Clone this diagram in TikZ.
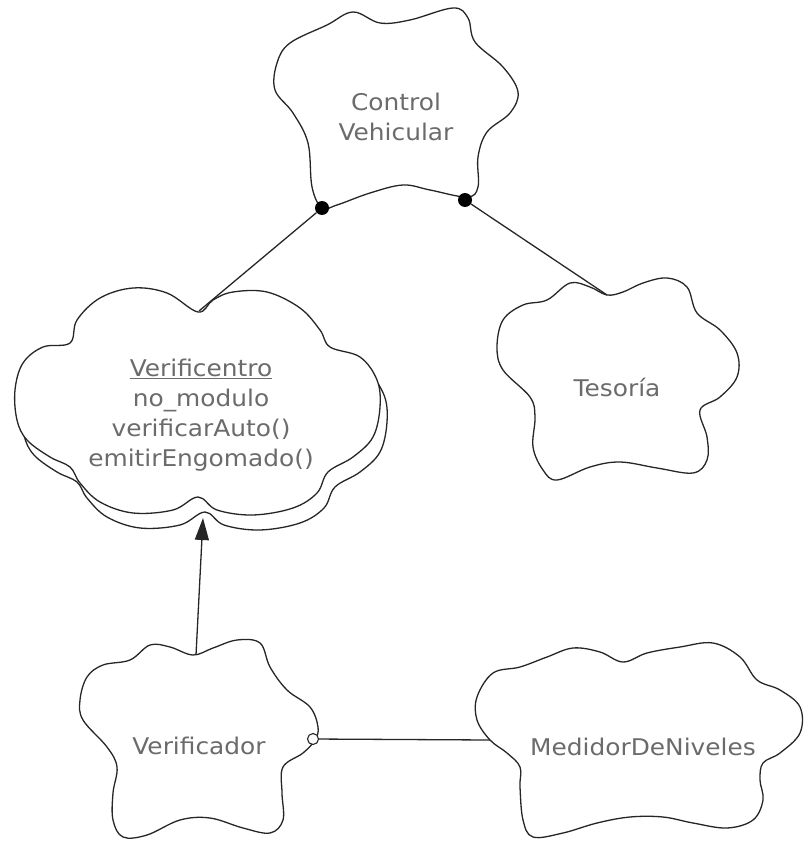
\documentclass[tikz,border=0pt]{standalone}
\usepackage{fontspec}
\setmainfont[FakeStretch=1.08]{DejaVu Sans}
\usetikzlibrary{arrows.meta}
\definecolor{txt}{gray}{0.42}
\begin{document}
\begin{tikzpicture}[x=1pt,y=-1pt,
  cloud/.style={draw=black!85,line width=1.3pt,fill=white},
  lbl/.style={text=txt,font=\fontsize{23}{30}\selectfont,align=center,inner sep=0},
  conn/.style={draw=black!85,line width=1.3pt},
  solid dot/.style={circle,fill=black,minimum size=14pt,inner sep=0},
  open dot/.style={circle,draw=black!85,line width=1.1pt,fill=white,minimum size=11pt,inner sep=0}]
\useasboundingbox (0,0) rectangle (806,842);

% Control Vehicular
\path[cloud] plot[smooth cycle,tension=0.6] coordinates {
  (290,43) (327,25) (353,12) (380,23) (410,20) (453,8) (468,18) (475,42)
  (503,67) (518,92) (510,113) (487,132) (478,157) (478,187) (467,197)
  (430,190) (403,185) (370,193) (337,205) (322,208) (312,187) (308,143)
  (293,113) (275,90) (277,63)};
\node[lbl] (cv) at (396,117) {Control\\Vehicular};

% Tesoria
\path[cloud] plot[smooth cycle,tension=0.6] coordinates {
  (607,295) (590,287) (570,283) (547,300) (523,305) (503,320) (497,347)
  (503,370) (530,397) (535,417) (533,447) (543,470) (557,480) (590,467)
  (620,462) (657,468) (693,473) (707,460) (707,437) (700,410) (720,397)
  (737,377) (737,353) (720,330) (697,313) (687,287) (667,278) (643,283)
  (623,292)};
\node[lbl] (tes) at (617,387) {Tesoría};

% Verificentro (stacked instances)
\path[cloud,shift={(7,15)}] plot[smooth cycle,tension=0.6] coordinates {
  (198,312) (167,293) (133,288) (100,298) (77,320) (70,343) (43,347)
  (23,363) (15,390) (17,420) (27,440) (50,457) (70,467) (80,483)
  (100,502) (133,513) (173,510) (198,497) (217,510) (253,515) (293,508)
  (317,493) (328,472) (353,457) (373,437) (380,407) (377,380) (360,357)
  (330,347) (320,330) (300,308) (267,292) (233,292) (213,300)};
\path[cloud] plot[smooth cycle,tension=0.6] coordinates {
  (198,312) (167,293) (133,288) (100,298) (77,320) (70,343) (43,347)
  (23,363) (15,390) (17,420) (27,440) (50,457) (70,467) (80,483)
  (100,502) (133,513) (173,510) (198,497) (217,510) (253,515) (293,508)
  (317,493) (328,472) (353,457) (373,437) (380,407) (377,380) (360,357)
  (330,347) (320,330) (300,308) (267,292) (233,292) (213,300)};
\node[lbl] (vc) at (201,415) {\underline{Verificentro}\\no\_modulo\\verificarAuto()\\emitirEngomado()};

% Verificador
\path[cloud] plot[smooth cycle,tension=0.6] coordinates {
  (193,655) (170,647) (150,645) (130,660) (103,665) (87,677) (80,700)
  (83,720) (107,747) (117,767) (113,793) (113,820) (123,837) (147,835)
  (180,820) (210,818) (243,828) (270,833) (283,820) (282,793) (283,767)
  (303,753) (315,740) (318,727) (310,707) (287,690) (270,667) (260,643)
  (237,640) (213,648)};
\node[lbl] (vd) at (199,746) {Verificador};

% MedidorDeNiveles
\path[cloud] plot[smooth cycle,tension=0.6] coordinates {
  (490,740) (477,720) (477,697) (493,673) (520,667) (547,657) (573,648)
  (600,652) (623,662) (647,653) (680,647) (713,643) (740,657) (757,680)
  (780,690) (800,707) (800,733) (780,753) (763,763) (760,780) (763,800)
  (753,820) (727,828) (693,823) (663,817) (630,817) (597,823) (563,833)
  (533,837) (523,820) (520,787) (520,767) (507,753)};
\node[lbl] (md) at (643,747) {MedidorDeNiveles};

% attachment points on the outlines
\coordinate (vcTop) at (199,311);
\coordinate (tesTop) at (607,295);
\coordinate (vcBot) at (203,518);
\coordinate (vdTop) at (196,655);
\coordinate (mdL) at (490,740);

% connectors
\node[solid dot] (d1) at (322,208) {};
\node[solid dot] (d2) at (465,200) {};
\draw[conn] (d1) -- (vcTop);
\draw[conn] (d2) -- (tesTop);
\draw[conn,-{Triangle[length=22pt,width=14pt]}] (vdTop) -- (vcBot);
\node[open dot] (od) at (313,739) {};
\draw[conn] (od) -- (mdL);
\end{tikzpicture}
\end{document}
